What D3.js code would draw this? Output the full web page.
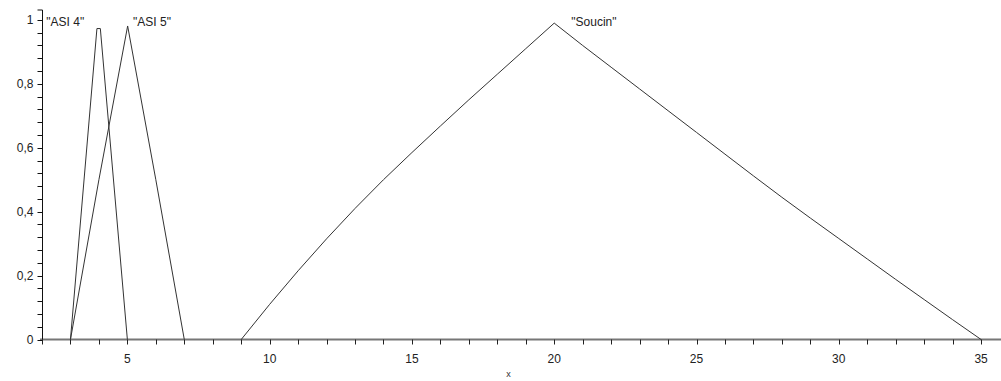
<!DOCTYPE html>
<html>
<head>
<meta charset="utf-8">
<script src="https://cdn.jsdelivr.net/npm/d3@7"></script>
<style>
  body { margin: 0; background: #fff; }
  text { font-family: "Liberation Sans", Arial, sans-serif; }
</style>
</head>
<body>
<div id="chart"></div>
<script>
// curve points (x, membership)
var asi4_x = [3, 3.93, 4.05, 5];
var asi4_y = [0, 0.973, 0.973, 0];
var asi5_x = [3, 4, 5.01, 6, 7];
var asi5_y = [0, 0.5, 0.981, 0.5, 0];
var soucin_x = [9, 10, 11, 12, 13, 14, 15, 16, 17, 18, 19, 20,
  21, 22, 23, 24, 25, 26, 27, 28, 29, 30, 31, 32, 33, 34, 35];
var soucin_y = [0, 0.11, 0.215, 0.315, 0.41, 0.5, 0.585, 0.668, 0.75, 0.83, 0.91, 0.99,
  0.92, 0.852, 0.784, 0.716, 0.648, 0.58, 0.512, 0.445, 0.38, 0.316, 0.252, 0.188, 0.125, 0.062, 0];

var series_names = ['"ASI 4"', '"ASI 5"', '"Soucin"'];
var label_x = [2.15, 5.2, 20.6];
var x_ticks = [5, 10, 15, 20, 25, 30, 35];
var y_ticks = [0, 0.2, 0.4, 0.6, 0.8, 1];

var width = 1001, height = 381;

var svg = d3.select("#chart").append("svg")
  .attr("width", width)
  .attr("height", height);

var x = d3.scaleLinear().domain([2, 35.7]).range([42, 1001]);
var y = d3.scaleLinear().domain([0, 1.031]).range([339.5, 10]);

// minor ticks
var x_minor = d3.range(2, 36, 1);
var y_minor = d3.range(0, 1.001, 0.04);

// x axis
var gx = svg.append("g").attr("transform", "translate(0," + y(0) + ")");
gx.append("line")
  .attr("x1", 40).attr("x2", width)
  .attr("y1", 0).attr("y2", 0)
  .attr("stroke", "#777").attr("stroke-width", 2);
gx.selectAll(".mt").data(x_minor).enter().append("line")
  .attr("x1", function(d) { return Math.round(x(d)) + 0.5; })
  .attr("x2", function(d) { return Math.round(x(d)) + 0.5; })
  .attr("y1", 0).attr("y2", 5)
  .attr("stroke", "#222");
gx.selectAll(".tl").data(x_ticks).enter().append("text")
  .attr("x", function(d) { return x(d); })
  .attr("y", 23)
  .attr("text-anchor", "middle")
  .style("font-size", "12px")
  .style("fill", "#222")
  .text(function(d) { return d; });

// y axis
var gy = svg.append("g").attr("transform", "translate(42.5,0)");
gy.append("path")
  .attr("d", "M-5," + y(1.031) + "H0V" + y(0))
  .attr("fill", "none").attr("stroke", "#111");
gy.selectAll(".mt").data(y_minor).enter().append("line")
  .attr("x1", -5).attr("x2", 0)
  .attr("y1", function(d) { return Math.round(y(d)) + 0.5; })
  .attr("y2", function(d) { return Math.round(y(d)) + 0.5; })
  .attr("stroke", "#111");
gy.selectAll(".tl").data(y_ticks).enter().append("text")
  .attr("x", -9)
  .attr("y", function(d) { return y(d) + 4.5; })
  .attr("text-anchor", "end")
  .style("font-size", "12px")
  .style("fill", "#222")
  .text(function(d) { return d3.format("")(d).replace(".", ","); });

svg.append("text")
  .attr("x", (x(2) + x(35.7)) / 2 - 13)
  .attr("y", 377)
  .attr("text-anchor", "middle")
  .style("font-size", "9px")
  .style("fill", "#333")
  .text("x");

// curves
var line = d3.line()
  .x(function(d) { return x(d[0]); })
  .y(function(d) { return y(d[1]); });

var curves = [d3.zip(asi4_x, asi4_y), d3.zip(asi5_x, asi5_y), d3.zip(soucin_x, soucin_y)];
svg.selectAll(".curve").data(curves).enter().append("path")
  .attr("class", "curve")
  .attr("d", line)
  .attr("fill", "none")
  .attr("stroke", "#333")
  .attr("stroke-width", 1);

svg.selectAll(".lab").data(series_names).enter().append("text")
  .attr("x", function(d, i) { return x(label_x[i]); })
  .attr("y", y(1) + 6)
  .style("font-size", "12px")
  .style("fill", "#222")
  .text(function(d) { return d; });
</script>
</body>
</html>
